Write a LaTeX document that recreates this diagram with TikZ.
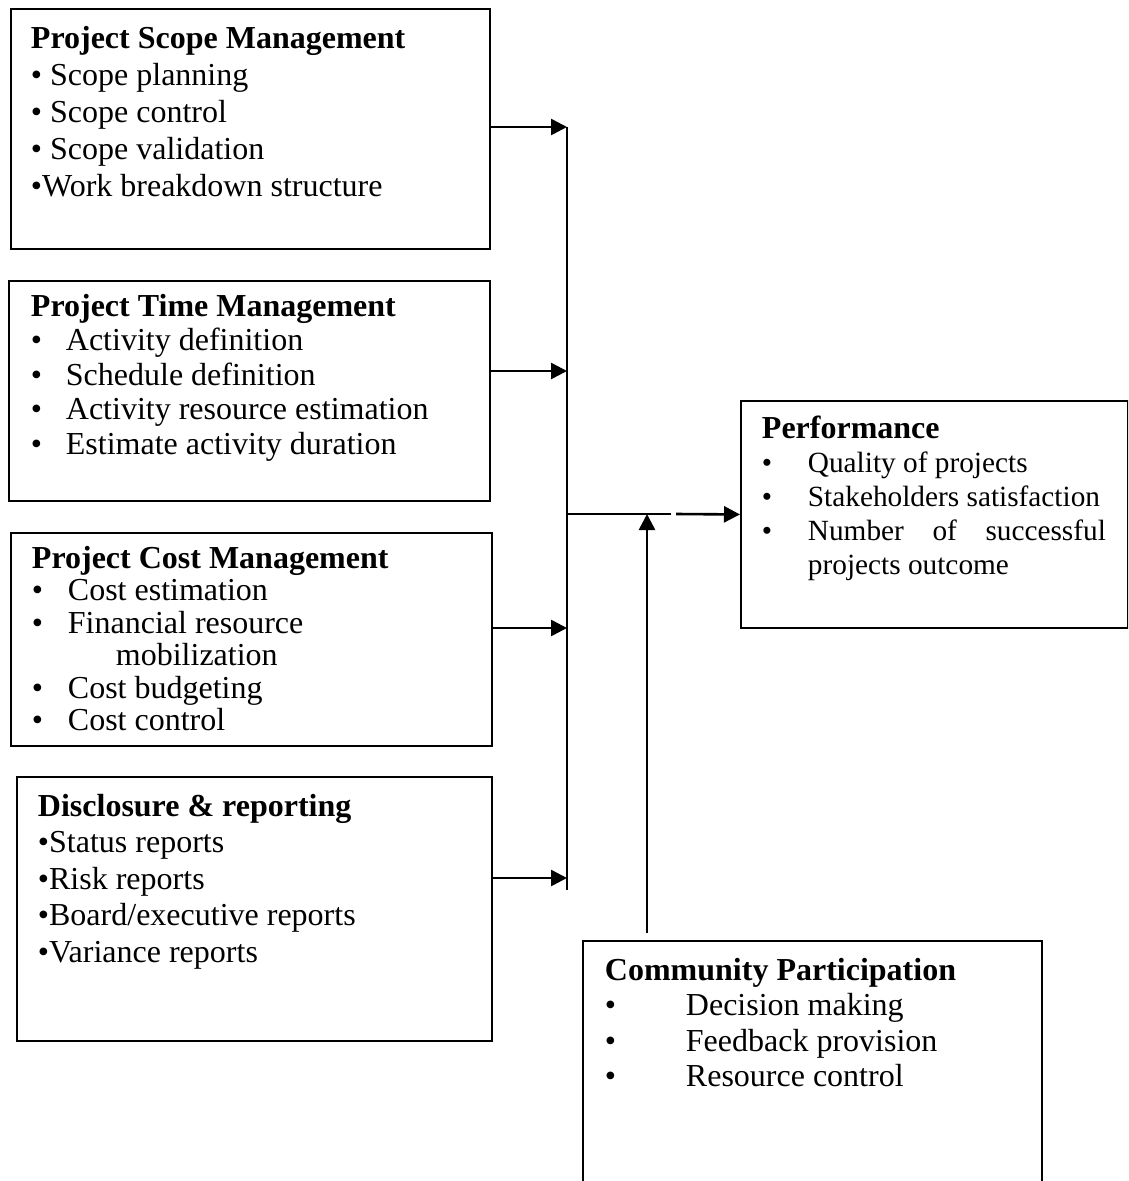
\documentclass[tikz,border=0pt]{standalone}
\usepackage{fontspec}
\setmainfont{Liberation Serif}
\usetikzlibrary{arrows.meta, positioning}

\newcommand{\bul}[1]{\makebox[#1][l]{\textbullet}}
\newcommand{\blockbody}[3]{\parbox[t][#2][t]{#1}{#3}}

\tikzset{
    block/.style={rectangle, draw, line width=1.9pt, anchor=north west, inner xsep=20pt, inner ysep=15pt, font=\fontsize{32}{37}\selectfont},
    arrow/.style={-{Triangle[length=16pt, width=16pt]}, line width=2.6pt},
    bus/.style={line width=2.6pt}
}

\begin{document}
\begin{tikzpicture}[x=1pt, y=-1pt]

    \clip (0,0) rectangle (1128,1181);

    % Input blocks
    \node (scope) [block, inner ysep=17pt] at (10,8) {\blockbody{439pt}{206pt}{\fontsize{32}{37}\selectfont
        \textbf{Project Scope Management}\\
        \textbullet\ Scope planning\\
        \textbullet\ Scope control\\
        \textbullet\ Scope validation\\
        \textbullet Work breakdown structure}};

    \node (time) [block, inner xsep=22pt, inner ysep=13pt] at (8,280) {\blockbody{437pt}{194pt}{\fontsize{32}{34.5}\selectfont
        \textbf{Project Time Management}\\
        \bul{35pt}Activity definition\\
        \bul{35pt}Schedule definition\\
        \bul{35pt}Activity resource estimation\\
        \bul{35pt}Estimate activity duration}};

    \node (cost) [block, inner xsep=21pt, inner ysep=13pt] at (10,532) {\blockbody{439pt}{187pt}{\fontsize{32}{32.5}\selectfont
        \textbf{Project Cost Management}\\
        \bul{36pt}Cost estimation\\
        \bul{36pt}Financial resource\\
        \hspace*{84pt}mobilization\\
        \bul{36pt}Cost budgeting\\
        \bul{36pt}Cost control}};

    \node (disc) [block, inner xsep=21pt, inner ysep=17pt] at (16,776) {\blockbody{433pt}{230pt}{\fontsize{32}{36.5}\selectfont
        \textbf{Disclosure \& reporting}\\
        \textbullet Status reports\\
        \textbullet Risk reports\\
        \textbullet Board/executive reports\\
        \textbullet Variance reports}};

    % Outcome and moderator
    \node (perf) [block, inner xsep=21pt, inner ysep=15pt] at (740,400) {\blockbody{345pt}{197pt}{%
        \textbf{Performance}\par
        \fontsize{29.3}{34}\selectfont
        \bul{46pt}Quality of projects\\
        \bul{46pt}Stakeholders satisfaction\\
        \bul{46pt}\makebox[298pt][s]{Number of successful}\\
        \hspace*{46pt}projects outcome}};

    \node (comm) [block, inner xsep=22pt, inner ysep=17pt] at (582,940) {\blockbody{415pt}{266pt}{\fontsize{32}{35.5}\selectfont
        \textbf{Community Participation}\\
        \bul{81pt}Decision making\\
        \bul{81pt}Feedback provision\\
        \bul{81pt}Resource control}};

    % Bus points
    \coordinate (sin) at (567,127);
    \coordinate (tin) at (567,371);
    \coordinate (cin) at (567,628);
    \coordinate (din) at (567,878);
    \coordinate (busend) at (567,890);
    \coordinate (join) at (567,514);
    \coordinate (gapl) at (671,514);
    \coordinate (gapr) at (676,514);
    \coordinate (meet) at (647,514);
    \coordinate (cout) at (647,933);

    % Connecting
    \draw [bus] (sin) -- (busend);
    \draw [arrow] (scope.east |- sin) -- (sin);
    \draw [arrow] (time.east |- tin) -- (tin);
    \draw [arrow] (cost.east |- cin) -- (cin);
    \draw [arrow] (disc.east |- din) -- (din);

    \draw [bus] (join) -- (gapl);
    \draw [arrow] (gapr) -- (perf.west);
    \draw [arrow] (cout) -- (meet);

\end{tikzpicture}
\end{document}
